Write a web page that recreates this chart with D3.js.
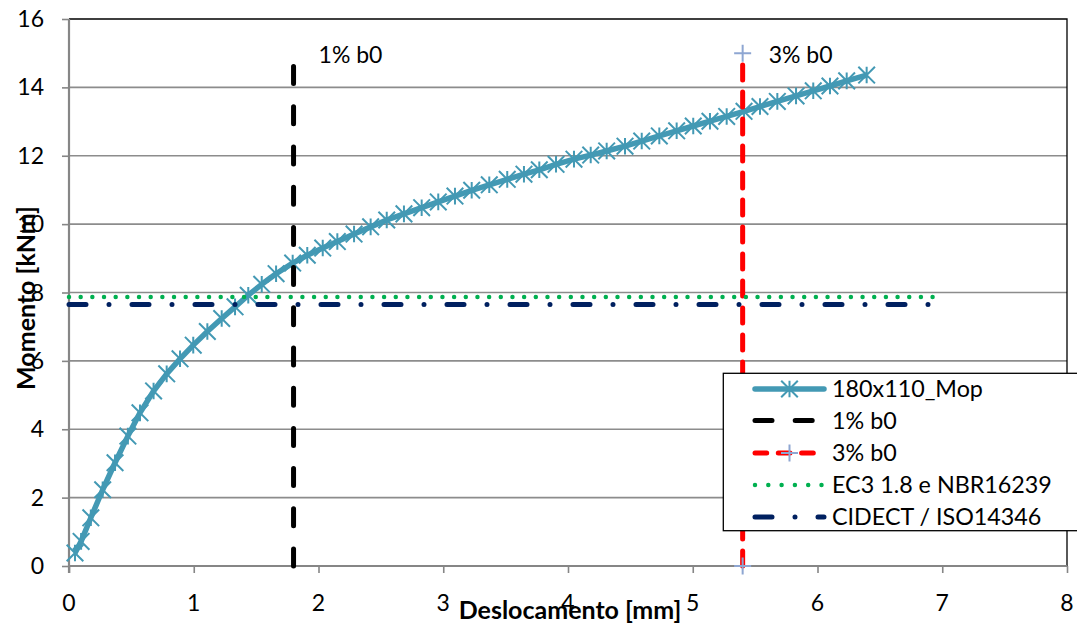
<!DOCTYPE html>
<html>
<head>
<meta charset="utf-8">
<script src="https://cdn.jsdelivr.net/npm/d3@7"></script>
<style>
  html, body { margin: 0; padding: 0; background: #fff; }
  svg { display: block; }
  text { font-family: Lato, "Liberation Sans", sans-serif; }
</style>
</head>
<body>
<svg id="chart" width="1077" height="630"></svg>
<script>
// ---- data ----
const mopX = [0.048, 0.097, 0.175, 0.27, 0.369, 0.472, 0.569, 0.678, 0.783, 0.890, 0.996, 1.109, 1.224, 1.331, 1.437, 1.545, 1.66, 1.793, 1.910, 2.034, 2.151, 2.285, 2.418, 2.547, 2.685, 2.827, 2.960, 3.094, 3.228, 3.369, 3.513, 3.647, 3.770, 3.904, 4.048, 4.182, 4.310, 4.457, 4.591, 4.732, 4.871, 5.004, 5.138, 5.272, 5.411, 5.539, 5.678, 5.828, 5.966, 6.100, 6.234, 6.394];
const mopY = [0.38, 0.72, 1.41, 2.23, 3.02, 3.80, 4.48, 5.12, 5.62, 6.06, 6.46, 6.86, 7.24, 7.58, 7.92, 8.24, 8.55, 8.86, 9.09, 9.30, 9.49, 9.71, 9.92, 10.12, 10.30, 10.48, 10.65, 10.82, 10.99, 11.15, 11.31, 11.46, 11.59, 11.75, 11.90, 12.02, 12.14, 12.28, 12.43, 12.58, 12.73, 12.87, 13.01, 13.15, 13.30, 13.44, 13.59, 13.75, 13.90, 14.04, 14.19, 14.36];
const b1X = [1.8, 1.8];   const b1Y = [0, 15];
const b3X = [5.4, 5.4];   const b3Y = [0, 15];
const ec3X = [0, 6.95];   const ec3Y = [7.87, 7.87];
const cidX = [0, 6.95];   const cidY = [7.65, 7.65];
const seriesNames = ["180x110_Mop", "1% b0", "3% b0", "EC3 1.8 e NBR16239", "CIDECT / ISO14346"];
const xTicks = [0, 1, 2, 3, 4, 5, 6, 7, 8];
const yTicks = [0, 2, 4, 6, 8, 10, 12, 14, 16];
const xTitle = "Deslocamento [mm]";
const yTitle = "Momento [kNm]";

// ---- styles ----
const teal = "#4399B4", navy = "#002060", green = "#00B050", red = "#FF0000", plusCol = "#8EA6D2";

const svg = d3.select("#chart");
svg.append("rect").attr("width", 1077).attr("height", 630).attr("fill", "#fff");

const x = d3.scaleLinear().domain([0, 8]).range([69, 1067]);
const y = d3.scaleLinear().domain([0, 16]).range([566, 19]);

// gridlines
svg.append("g").selectAll("line").data(yTicks.filter(d => d > 0 && d < 16)).join("line")
  .attr("x1", x(0)).attr("x2", x(8)).attr("y1", d => y(d)).attr("y2", d => y(d))
  .attr("stroke", "#8C8C8C").attr("stroke-width", 1.6);

// plot border (top/right)
svg.append("path").attr("d", `M${x(0)},${y(16)}H${x(8)}V${y(0)}`)
  .attr("fill", "none").attr("stroke", "#000").attr("stroke-width", 1.3);

// axes
const xAxis = d3.axisBottom(x).tickValues(xTicks).tickSize(7).tickFormat("");
const yAxis = d3.axisLeft(y).tickValues(yTicks).tickSize(7).tickFormat("");
const gx = svg.append("g").attr("transform", `translate(0,${y(0)})`).call(xAxis);
const gy = svg.append("g").attr("transform", `translate(${x(0)},0)`).call(yAxis);
[gx, gy].forEach(g => {
  g.select(".domain").attr("stroke", "#868686").attr("stroke-width", 2.2);
  g.selectAll(".tick line").attr("stroke", "#868686").attr("stroke-width", 1.6);
});
gx.select(".domain").attr("d", `M${x(0)},0H${x(8)}`);
gy.select(".domain").attr("d", `M0,${y(0)+7}V${y(16)}`);

// tick labels
svg.append("g").selectAll("text").data(xTicks).join("text")
  .attr("x", d => x(d)).attr("y", 611).attr("text-anchor", "middle")
  .attr("font-size", 23).attr("fill", "#000").text(d => d);
svg.append("g").selectAll("text").data(yTicks).join("text")
  .attr("x", 44).attr("y", d => y(d) + 8).attr("text-anchor", "end")
  .attr("font-size", 23).attr("fill", "#000").text(d => d);

// series
const zip = (a, b) => a.map((v, i) => [v, b[i]]);
const line = d3.line().x(d => x(d[0])).y(d => y(d[1]));
const mop = zip(mopX, mopY);

function star(g, cx, cy, r, col) {
  g.append("path")
    .attr("d", `M${cx-r},${cy-r}L${cx+r},${cy+r}M${cx-r},${cy+r}L${cx+r},${cy-r}M${cx},${cy-r}V${cy+r}`)
    .attr("stroke", col).attr("stroke-width", 2).attr("fill", "none");
}
function plus(g, cx, cy, r, col) {
  g.append("path")
    .attr("d", `M${cx-r},${cy}H${cx+r}M${cx},${cy-r}V${cy+r}`)
    .attr("stroke", col).attr("stroke-width", 2).attr("fill", "none");
}

const gs = svg.append("g");
gs.append("path").datum(mop).attr("d", line).attr("fill", "none")
  .attr("stroke", teal).attr("stroke-width", 5.5).attr("stroke-linejoin", "round");
const gm = gs.append("g");
mop.forEach(d => star(gm, x(d[0]), y(d[1]), 8.3, teal));

gs.append("path").datum(zip(b1X, b1Y)).attr("d", line).attr("fill", "none")
  .attr("stroke", "#000").attr("stroke-width", 5).attr("stroke-linecap", "round")
  .attr("stroke-dasharray", "17,23.2");

gs.append("path").datum(zip(b3X, b3Y)).attr("d", line).attr("fill", "none")
  .attr("stroke", red).attr("stroke-width", 5).attr("stroke-linecap", "round")
  .attr("stroke-dasharray", "15,12");
const gp = gs.append("g");
zip(b3X, b3Y).forEach(d => plus(gp, x(d[0]), y(d[1]), 8.5, plusCol));

gs.append("path").datum(zip(ec3X, ec3Y)).attr("d", line).attr("fill", "none")
  .attr("stroke", green).attr("stroke-width", 4.5).attr("stroke-linecap", "round")
  .attr("stroke-dasharray", "0,11.67");

gs.append("path").datum(zip(cidX, cidY)).attr("d", line).attr("fill", "none")
  .attr("stroke", navy).attr("stroke-width", 5).attr("stroke-linecap", "round")
  .attr("stroke-dasharray", "17,23,0,23");

// data labels
svg.append("text").attr("x", x(b1X[1]) + 25).attr("y", y(b1Y[1]) + 10)
  .attr("font-size", 23).text(seriesNames[1]);
svg.append("text").attr("x", x(b3X[1]) + 26).attr("y", y(b3Y[1]) + 10)
  .attr("font-size", 23).text(seriesNames[2]);

// axis titles
svg.append("text").attr("x", 570).attr("y", 619).attr("text-anchor", "middle")
  .attr("font-size", 25).attr("font-weight", "bold").text(xTitle);
svg.append("text").attr("transform", "translate(35,298) rotate(-90)").attr("text-anchor", "middle")
  .attr("font-size", 25).attr("font-weight", "bold").text(yTitle);

// legend
const lg = svg.append("g");
lg.append("rect").attr("x", 723.3).attr("y", 373.3).attr("width", 380).attr("height", 157.4)
  .attr("fill", "#fff").attr("stroke", "#000").attr("stroke-width", 1.3);
const rows = [389, 420.5, 453, 485, 517];
const lx1 = 755, lx2 = 824, tx = 832;
const styles = [
  {stroke: teal, w: 5.5, dash: null},
  {stroke: "#000", w: 5, dash: "17,23.2"},
  {stroke: red, w: 5, dash: "11.7,11.6"},
  {stroke: green, w: 4.5, dash: "0,13.3"},
  {stroke: navy, w: 5, dash: "17,23,0,23"}
];
seriesNames.forEach((name, i) => {
  const p = lg.append("line").attr("x1", lx1).attr("x2", lx2).attr("y1", rows[i]).attr("y2", rows[i])
    .attr("stroke", styles[i].stroke).attr("stroke-width", styles[i].w)
    .attr("stroke-linecap", "round");
  if (styles[i].dash) p.attr("stroke-dasharray", styles[i].dash);
  lg.append("text").attr("x", tx).attr("y", rows[i] + 8).attr("font-size", 23.3).text(name);
});
star(lg, 789.5, rows[0], 8.3, teal);
plus(lg, 789.5, rows[2], 8.5, plusCol);
</script>
</body>
</html>
